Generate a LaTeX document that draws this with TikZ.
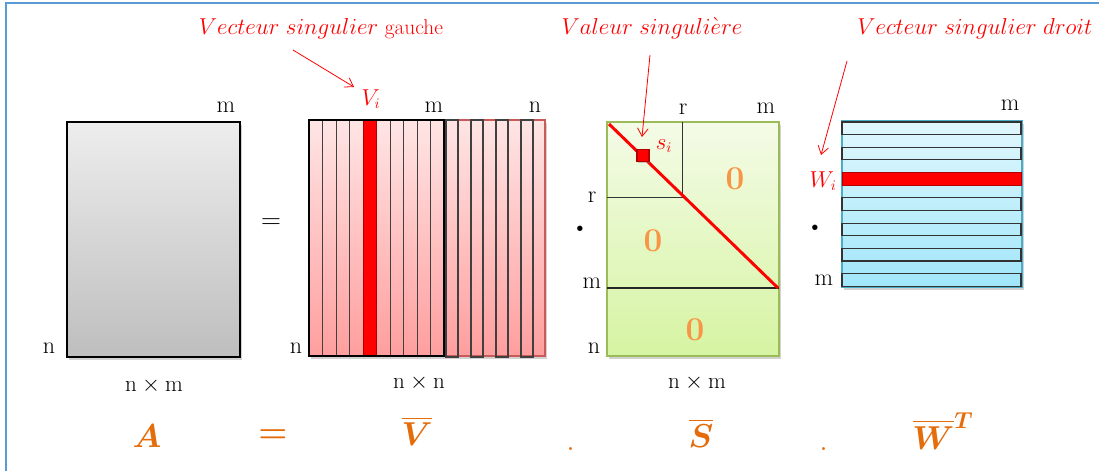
\documentclass[tikz,border=0pt]{standalone}
\usepackage{amsmath}
\usetikzlibrary{arrows.meta,shadows}
\definecolor{frameblue}{RGB}{91,155,213}
\definecolor{eqorange}{RGB}{228,108,10}
\definecolor{zeroorange}{RGB}{247,150,70}
\definecolor{sgreen}{RGB}{155,187,89}
\definecolor{wblue}{RGB}{75,172,198}
\definecolor{vred}{RGB}{200,90,88}
\definecolor{atop}{RGB}{237,237,237}
\definecolor{abot}{RGB}{190,190,190}
\definecolor{vtop}{RGB}{255,229,229}
\definecolor{vbot}{RGB}{255,158,158}
\definecolor{stop}{RGB}{244,251,231}
\definecolor{sbot}{RGB}{214,244,162}
\definecolor{wtop}{RGB}{225,247,253}
\definecolor{wbot}{RGB}{160,230,250}
\tikzset{
  matshadow/.style={drop shadow={shadow xshift=1.6pt,shadow yshift=-2.4pt,opacity=.25,fill=black!70}},
  pointer/.style={red,line width=.6pt,-{Straight Barb[length=6pt,width=8pt]}},
  dimlbl/.style={font=\fontsize{18}{20}\selectfont},
  redlbl/.style={red,font=\fontsize{16}{18}\selectfont},
  zero/.style={zeroorange,font=\fontsize{25}{28}\selectfont\bfseries},
  eqlbl/.style={eqorange,font=\fontsize{27}{30}\selectfont\boldmath},
  stripe/.style={black!75,line width=.6pt},
  timesdot/.style={anchor=base,font=\fontsize{28}{30}\selectfont\bfseries},
}
\begin{document}
\begin{tikzpicture}[x=0.75pt,y=-0.75pt]
  \useasboundingbox (0,0) rectangle (1099,471);
  \draw[frameblue,line width=1.5pt] (6,471) -- (6,2.5) -- (1099,2.5);

  % A
  \draw[matshadow,top color=atop,bottom color=abot,line width=1.5pt] (67,122) rectangle (240,357);
  \node[dimlbl,anchor=base] (Am) at (226,112) {m};
  \node[dimlbl,anchor=base] (An) at (49,353) {n};
  \node[dimlbl,anchor=base] (Adim) at (154,391) {$\mathrm{n}\times\mathrm{m}$};
  \node[font=\fontsize{21}{24}\selectfont] (eqtop) at (271,224) {$=$};

  % V
  \draw[matshadow,vred,line width=1pt,top color=vtop,bottom color=vbot] (309,120) rectangle (545,356);
  \foreach \k in {1,...,9}
    \draw[stripe] ({309+13.5*\k},120) -- ({309+13.5*\k},356);
  \filldraw[red,draw=red!70!black,line width=.6pt] (363,120) rectangle (376.5,356);
  \foreach \x in {446,471,496,521}
    \draw[stripe,line width=.8pt] (\x,120) rectangle ({\x+12},357);
  \draw[line width=2pt] (309,120) rectangle (444,356);
  \node[redlbl] (Vi) at (371,99) {$V_i$};
  \node[dimlbl,anchor=base] (Vm) at (434,112) {m};
  \node[dimlbl,anchor=base] (Vn) at (535,112) {n};
  \node[dimlbl,anchor=base] (Vnl) at (296,353) {n};
  \node[dimlbl,anchor=base] (Vdim) at (419,388) {$\mathrm{n}\times\mathrm{n}$};

  \node[timesdot] (dot1) at (580,231) {.};

  % S
  \draw[matshadow,sgreen,line width=1.5pt,top color=stop,bottom color=sbot] (607,122) rectangle (779,356);
  \draw[black!80,line width=.6pt] (682,122) -- (682,197) -- (607,197);
  \draw[black!85,line width=1.2pt] (607,288) -- (779,288);
  \draw[red,line width=2.2pt] (609,124) -- (778,288);
  \node[fill=red,draw=red!70!black,line width=.8pt,minimum size=9pt,inner sep=0pt,
        drop shadow={shadow xshift=.8pt,shadow yshift=-.8pt,opacity=.4}] (sv) at (643,155.5) {};
  \node[redlbl] (si) at (664,146) {$s_i$};
  \node[dimlbl,anchor=base] (Sr) at (683,114) {r};
  \node[dimlbl,anchor=base] (Sm) at (766,113) {m};
  \node[dimlbl,anchor=base] (Srl) at (592,202) {r};
  \node[dimlbl,anchor=base] (Sml) at (592,288) {m};
  \node[dimlbl,anchor=base] (Snl) at (594,353) {n};
  \node[dimlbl,anchor=base] (Sdim) at (697,388) {$\mathrm{n}\times\mathrm{m}$};
  \node[zero] (z1) at (735,179) {0};
  \node[zero] (z2) at (653,241) {0};
  \node[zero] (z3) at (695,330) {0};

  \node[timesdot] (dot2) at (815,230) {.};

  % W
  \draw[matshadow,wblue,line width=1.5pt,top color=wtop,bottom color=wbot] (842,121) rectangle (1022,287);
  \foreach \k in {0,1,3,4,5,6}
    \draw[black!80,line width=.8pt] (842,{122+25.3*\k}) rectangle (1021,{134.5+25.3*\k});
  \filldraw[red,draw=red!70!black,line width=.6pt] (842,172.6) rectangle (1021,185.1);
  \node[redlbl] (Wi) at (823,181) {$W_i$};
  \node[dimlbl,anchor=base] (Wm) at (1010,110) {m};
  \node[dimlbl,anchor=base] (Wml) at (824,285) {m};

  % legendes
  \node[redlbl,anchor=base] (gauche) at (321,34) {$Vecteur\ singulier$ gauche};
  \node[redlbl,anchor=base] (valeur) at (652,34) {$Valeur\ singuli\grave{e}re$};
  \node[redlbl,anchor=base] (droit) at (975,34) {$Vecteur\ singulier\ droit$};
  \coordinate (gtail) at (293,50);
  \coordinate (gtip) at (354,87);
  \coordinate (vtail) at (650,55);
  \coordinate (vtip) at (642,137);
  \coordinate (dtail) at (847,61);
  \coordinate (dtip) at (821,155);
  \draw[pointer] (gtail) -- (gtip);
  \draw[pointer] (vtail) -- (vtip);
  \draw[pointer] (dtail) -- (dtip);

  % equation
  \node[eqlbl] (eA) at (147,436) {$A$};
  \node[eqlbl] (eEq) at (273,436) {$=$};
  \node[eqlbl] (eV) at (417,431) {$\overline{V}$};
  \node[eqlbl,anchor=base] (eDot1) at (571,450) {.};
  \node[eqlbl] (eS) at (701,433) {$\overline{S}$};
  \node[eqlbl,anchor=base] (eDot2) at (824,450) {.};
  \node[eqlbl] (eW) at (943,431) {$\overline{W}^T$};
\end{tikzpicture}
\end{document}
